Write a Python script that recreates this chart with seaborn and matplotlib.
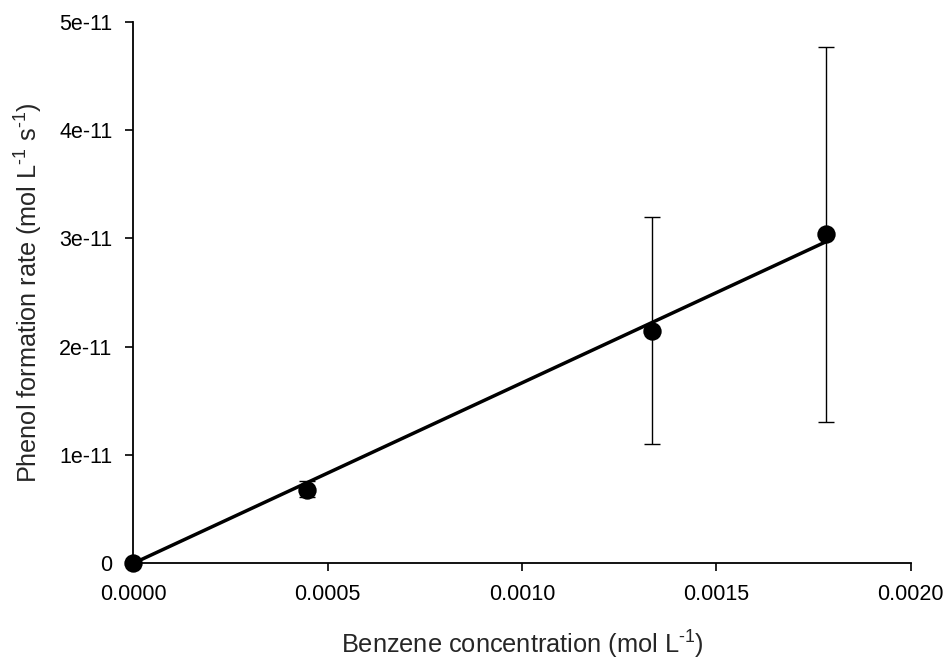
import matplotlib
matplotlib.use("Agg")
import matplotlib.pyplot as plt
import seaborn as sns
import pandas as pd
import numpy as np

# Data
benzene_conc = [0.0, 0.000448, 0.001336, 0.001783]
phenol_rate = [0.0, 6.8e-12, 2.148e-11, 3.038e-11]
err_lower = [0.0, 6.1e-12, 1.10e-11, 1.307e-11]
err_upper = [0.0, 7.6e-12, 3.195e-11, 4.765e-11]
fit_x = [0.0, 0.001783]
fit_y = [0.0, 2.97e-11]
x_ticks = [0.0, 0.0005, 0.0010, 0.0015, 0.0020]
x_tick_labels = ["0.0000", "0.0005", "0.0010", "0.0015", "0.0020"]
y_ticks = [0.0, 1e-11, 2e-11, 3e-11, 4e-11, 5e-11]
y_tick_labels = ["0", "1e-11", "2e-11", "3e-11", "4e-11", "5e-11"]

sns.set_style("ticks")
plt.rcParams["font.family"] = ["Liberation Sans", "DejaVu Sans"]
plt.rcParams["mathtext.fontset"] = "custom"
plt.rcParams["mathtext.rm"] = "Liberation Sans"
plt.rcParams["mathtext.it"] = "Liberation Sans:italic"
plt.rcParams["mathtext.default"] = "regular"

df = pd.DataFrame({"x": benzene_conc, "y": phenol_rate})
fit = pd.DataFrame({"x": fit_x, "y": fit_y})

fig = plt.figure(figsize=(9.46, 6.62), dpi=100)
ax = fig.add_axes([133.3 / 946, 1 - 563.3 / 662, (910.5 - 133.3) / 946, (563.3 - 21.8) / 662])

yerr = np.array([np.array(phenol_rate) - np.array(err_lower),
                 np.array(err_upper) - np.array(phenol_rate)])
ax.errorbar(benzene_conc, phenol_rate, yerr=yerr, fmt="none", ecolor="black",
            elinewidth=1.0, capsize=6, capthick=1.0, zorder=2)
sns.lineplot(data=fit, x="x", y="y", ax=ax, color="black", linewidth=2.5, zorder=3)
sns.scatterplot(data=df, x="x", y="y", ax=ax, color="black", s=175, edgecolor="black",
                linewidth=0, zorder=4, clip_on=False)

ax.set_xlim(0, 0.002)
ax.set_ylim(0, 5e-11)
ax.set_xticks(x_ticks)
ax.set_xticklabels(x_tick_labels)
ax.set_yticks(y_ticks)
ax.set_yticklabels(y_tick_labels)
ax.tick_params(axis="both", direction="out", length=6, width=1.2, labelsize=15.5, colors="black")
ax.tick_params(axis="x", pad=9)
ax.tick_params(axis="y", pad=9)
for s in ["top", "right"]:
    ax.spines[s].set_visible(False)
for s in ["left", "bottom"]:
    ax.spines[s].set_linewidth(1.3)
    ax.spines[s].set_color("black")

ax.set_xlabel(r"Benzene concentration (mol L$^{\text{-1}}$)", fontsize=18.3, labelpad=17)
ax.set_ylabel(r"Phenol formation rate (mol L$^{\text{-1}}$ s$^{\text{-1}}$)", fontsize=18.2, labelpad=10)

fig.savefig("out.png", dpi=100)
